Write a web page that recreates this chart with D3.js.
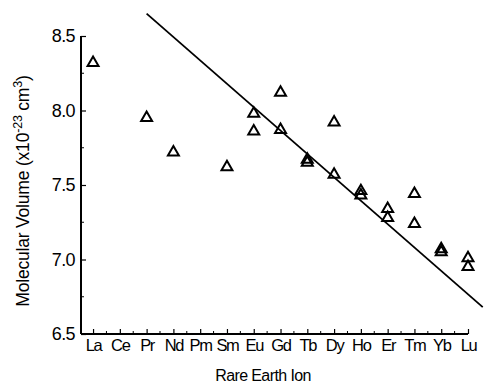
<!DOCTYPE html>
<html><head><meta charset="utf-8">
<script src="https://cdn.jsdelivr.net/npm/d3@7"></script>
<style>body{margin:0;background:#fff}</style>
</head><body>
<svg id="c" width="484" height="385"></svg>
<script>
const categories = ["La","Ce","Pr","Nd","Pm","Sm","Eu","Gd","Tb","Dy","Ho","Er","Tm","Yb","Lu"];
const pointIons   = ["La","Pr","Nd","Sm","Eu","Eu","Gd","Gd","Tb","Tb","Dy","Dy","Ho","Ho","Er","Er","Tm","Tm","Yb","Yb","Lu","Lu"];
const pointValues = [8.32,7.95,7.72,7.62,7.98,7.86,8.12,7.87,7.67,7.65,7.92,7.57,7.46,7.43,7.34,7.28,7.44,7.24,7.07,7.05,7.01,6.95];
const fitX = [2.0, 14.55];
const fitY = [8.65, 6.68];
const yTicks = [6.5,7.0,7.5,8.0,8.5];

const svg = d3.select("#c");
const x = d3.scaleLinear().domain([-0.45, 14.0]).range([81, 468]);
const y = d3.scaleLinear().domain([6.5, 8.5]).range([334, 36]);
const font = "Liberation Sans, Arial, sans-serif";

// x-axis
const xAxis = d3.axisBottom(x).tickValues(d3.range(0,15)).tickSize(-5).tickFormat(i => categories[i]);
const gx = svg.append("g").attr("transform","translate(0,334)").call(xAxis);
gx.select(".domain").attr("d","M81,0H468").attr("stroke","#000").attr("stroke-width",1.8);
gx.selectAll(".tick line").attr("stroke","#000").attr("stroke-width",1.2);
gx.selectAll(".tick text").attr("y",5).attr("font-family",font).attr("font-size",16.5)
  .attr("letter-spacing",-1.3).attr("fill","#000");
const gxm = svg.append("g").attr("transform","translate(0,334)");
gxm.selectAll("line").data(d3.range(0,14).map(i=>i+0.5)).join("line")
  .attr("x1",d=>x(d)).attr("x2",d=>x(d)).attr("y1",0).attr("y2",-3).attr("stroke","#000").attr("stroke-width",1);

// y-axis
const yAxis = d3.axisLeft(y).tickValues(yTicks).tickSize(-5).tickFormat(d3.format(".1f"));
const gy = svg.append("g").attr("transform","translate(81,0)").call(yAxis);
gy.select(".domain").attr("d","M0,36V334").attr("stroke","#000").attr("stroke-width",2);
gy.selectAll(".tick line").attr("stroke","#000").attr("stroke-width",1.2);
gy.selectAll(".tick text").attr("x",-6).attr("font-family",font).attr("font-size",18)
  .attr("letter-spacing",-0.6).attr("fill","#000");
const gym = svg.append("g").attr("transform","translate(81,0)");
gym.selectAll("line").data([6.75,7.25,7.75,8.25]).join("line")
  .attr("x1",0).attr("x2",3).attr("y1",d=>y(d)).attr("y2",d=>y(d)).attr("stroke","#000").attr("stroke-width",1);

// fit line
svg.append("line").attr("x1",x(fitX[0])).attr("y1",y(fitY[0])).attr("x2",x(fitX[1])).attr("y2",y(fitY[1]))
  .attr("stroke","#000").attr("stroke-width",1.8);

// points
const tri = d3.symbol().type(d3.symbolTriangle).size(52);
svg.append("g").selectAll("path").data(pointValues).join("path")
  .attr("d",tri)
  .attr("transform",(d,i)=>`translate(${x(categories.indexOf(pointIons[i]))},${y(d)})`)
  .attr("fill","none").attr("stroke","#000").attr("stroke-width",2);

// titles
svg.append("text").attr("x",263).attr("y",381).attr("text-anchor","middle")
  .attr("font-family",font).attr("font-size",16).attr("letter-spacing",-0.6).text("Rare Earth Ion");
const yt = svg.append("text").attr("transform","translate(29,191) rotate(-90)").attr("text-anchor","middle")
  .attr("font-family",font).attr("font-size",17.5).attr("letter-spacing",-0.2);
yt.append("tspan").text("Molecular Volume (x10");
yt.append("tspan").attr("dy",-7).attr("font-size",12.5).text("-23");
yt.append("tspan").attr("dy",7).text(" cm");
yt.append("tspan").attr("dy",-7).attr("font-size",12.5).text("3");
yt.append("tspan").attr("dy",7).text(")");
</script>
</body></html>
